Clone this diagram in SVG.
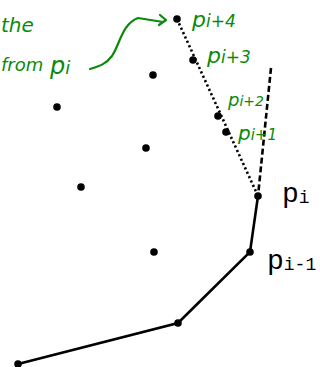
<svg xmlns="http://www.w3.org/2000/svg" width="320" height="367" viewBox="0 0 320 367">
<style>
.pt{fill:#000}
.hand{fill:#0a8a0a;font-family:"DejaVu Sans",sans-serif;font-style:italic}
.lbl{fill:#000;font-family:"Liberation Mono",monospace}
.grn{fill:none;stroke:#0a8a0a;stroke-width:2.2;stroke-linecap:round;stroke-linejoin:round}
</style>
<rect width="320" height="367" fill="#fff"/>
<g id="connectors">
<polyline points="258,196 250,252 178,323 18,364" fill="none" stroke="#000" stroke-width="2.6"/>
<line x1="177" y1="19" x2="258" y2="196" stroke="#000" stroke-width="2.6" stroke-dasharray="2.2 2.6"/>
<line x1="271" y1="68" x2="258" y2="196" stroke="#000" stroke-width="2.6" stroke-dasharray="6 3"/>
<path class="grn" d="M90,69 C100,66 106,64 112,56 C120,44 122,24 138,18 L163,22"/>
<path class="grn" d="M160,15 L166,20 L159,25"/>
</g>
<g id="points">
<circle id="p_i4" class="pt" cx="177" cy="19" r="3.8"/>
<circle id="p_i3" class="pt" cx="193" cy="60" r="3.8"/>
<circle id="q1" class="pt" cx="153" cy="75" r="3.8"/>
<circle id="q2" class="pt" cx="57" cy="107" r="3.8"/>
<circle id="q3" class="pt" cx="146" cy="148" r="3.8"/>
<circle id="q4" class="pt" cx="81" cy="187" r="3.8"/>
<circle id="p_i2" class="pt" cx="218" cy="116" r="3.8"/>
<circle id="p_i1" class="pt" cx="226" cy="132" r="3.8"/>
<circle id="p_i" class="pt" cx="258" cy="196" r="3.8"/>
<circle id="p_im1" class="pt" cx="250" cy="252" r="3.8"/>
<circle id="q5" class="pt" cx="154" cy="252" r="3.8"/>
<circle id="q6" class="pt" cx="178" cy="323" r="3.8"/>
<circle id="q7" class="pt" cx="18" cy="364" r="3.8"/>
</g>
<g id="labels">
<text class="lbl" x="282" y="202" font-size="28">p<tspan font-size="18" dy="1">i</tspan></text>
<text class="lbl" x="267" y="269" font-size="28">p<tspan font-size="18" dy="1">i-1</tspan></text>
</g>
<g id="annotations">
<text class="hand" x="1" y="32" font-size="20">the</text>
<text class="hand" x="1" y="71" font-size="18">from</text>
<text class="hand" x="50" y="74" font-size="24">p<tspan font-size="18">i</tspan></text>
<text class="hand" x="192" y="27" font-size="22">p<tspan font-size="17">i+4</tspan></text>
<text class="hand" x="207" y="63" font-size="22">p<tspan font-size="17">i+3</tspan></text>
<text class="hand" x="228" y="106" font-size="18">p<tspan font-size="14">i+2</tspan></text>
<text class="hand" x="238" y="140" font-size="20">p<tspan font-size="15">i+1</tspan></text>
</g>
</svg>
